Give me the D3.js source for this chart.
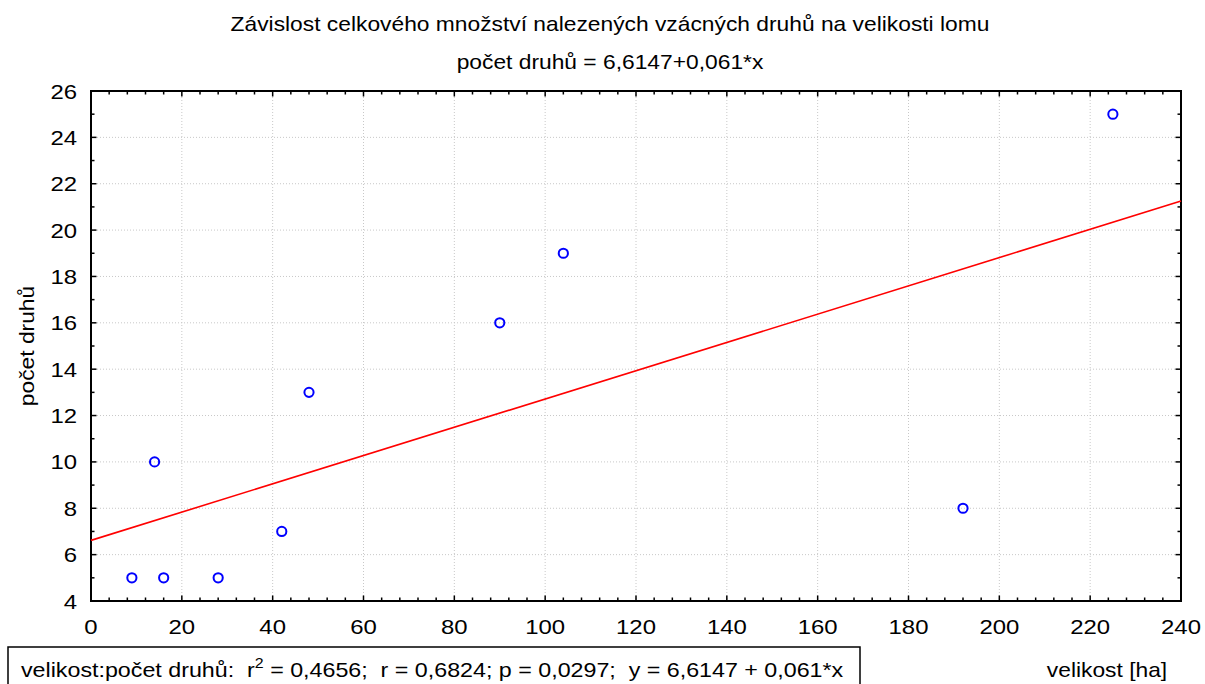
<!DOCTYPE html>
<html>
<head>
<meta charset="utf-8">
<script src="https://cdn.jsdelivr.net/npm/d3@7"></script>
<style>
	body { margin: 0; background: #fff; }
	svg { font-family: Arial, "Liberation Sans", sans-serif; }
	.grid line { stroke: #c8c8c8; stroke-dasharray: 1,2; }
	text { white-space: pre; }
</style>
</head>
<body>
<svg id="vis" width="1205" height="684"></svg>
<script>
// data
const velikost = [9, 14, 16, 28, 42, 48, 90, 104, 192, 225];
const pocetDruhu = [5, 10, 5, 5, 7, 13, 16, 19, 8, 25];
const xTicks = [0, 20, 40, 60, 80, 100, 120, 140, 160, 180, 200, 220, 240];
const yTicks = [4, 6, 8, 10, 12, 14, 16, 18, 20, 22, 24, 26];
const fit = { a: 6.6147, b: 0.061 };

const svg = d3.select("svg#vis");
const plot = { left: 91, top: 91, right: 1181, bottom: 601 };
const stretch = 1.14; // the original text is a bit wider than Arial

const x = d3.scaleLinear().domain([0, 240]).range([plot.left, plot.right]);
const y = d3.scaleLinear().domain([4, 26]).range([plot.bottom, plot.top]);

// grid
svg.append("g").attr("class", "grid")
	.selectAll("line").data(xTicks.slice(1, -1)).enter().append("line")
	.attr("x1", d => x(d)).attr("x2", d => x(d))
	.attr("y1", plot.top).attr("y2", plot.bottom);
svg.append("g").attr("class", "grid")
	.selectAll("line").data(yTicks.slice(1, -1)).enter().append("line")
	.attr("x1", plot.left).attr("x2", plot.right)
	.attr("y1", d => y(d)).attr("y2", d => y(d));

// ticks pointing inward on all four sides
const xMinor = d3.range(0, 241, 4);
const yMinor = d3.range(4, 26.01, 1);
const ticks = svg.append("g").attr("stroke", "#000").attr("stroke-width", 1.5);
xMinor.forEach(v => {
	const L = v % 20 === 0 ? 5.5 : 3.5;
	ticks.append("line").attr("x1", x(v)).attr("x2", x(v)).attr("y1", plot.bottom).attr("y2", plot.bottom - L);
	ticks.append("line").attr("x1", x(v)).attr("x2", x(v)).attr("y1", plot.top).attr("y2", plot.top + L);
});
yMinor.forEach(v => {
	const L = v % 2 === 0 ? 5.5 : 3.5;
	ticks.append("line").attr("y1", y(v)).attr("y2", y(v)).attr("x1", plot.left).attr("x2", plot.left + L);
	ticks.append("line").attr("y1", y(v)).attr("y2", y(v)).attr("x1", plot.right).attr("x2", plot.right - L);
});

// frame
svg.append("rect")
	.attr("x", plot.left).attr("y", plot.top)
	.attr("width", plot.right - plot.left).attr("height", plot.bottom - plot.top)
	.attr("fill", "none").attr("stroke", "#000").attr("stroke-width", 2);

// tick labels
svg.append("g").selectAll("text").data(xTicks).enter().append("text")
	.attr("transform", d => translate(x(d), plot.bottom + 33) + " scale(" + stretch + ",1)")
	.attr("text-anchor", "middle").attr("font-size", 21)
	.text(d => d);
svg.append("g").selectAll("text").data(yTicks).enter().append("text")
	.attr("transform", d => translate(plot.left - 14, y(d) + 7.5) + " scale(" + stretch + ",1)")
	.attr("text-anchor", "end").attr("font-size", 21)
	.text(d => d);

// regression line
const line = d3.line().x(d => x(d)).y(d => y(fit.a + fit.b * d));
svg.append("path")
	.attr("d", line([0, 240]))
	.attr("fill", "none").attr("stroke", "#ff0000").attr("stroke-width", 1.6);

// points
svg.append("g").selectAll("circle").data(velikost).enter().append("circle")
	.attr("cx", d => x(d)).attr("cy", (d, i) => y(pocetDruhu[i]))
	.attr("r", 4.6)
	.attr("fill", "none").attr("stroke", "#0000ff").attr("stroke-width", 2);

// titles
function label(tx, ty, txt, anchor, rot) {
	return svg.append("text")
		.attr("transform", translate(tx, ty) + (rot ? " rotate(" + rot + ")" : "") + " scale(" + stretch + ",1)")
		.attr("text-anchor", anchor).attr("font-size", 20)
		.text(txt);
}
label(610, 31, "Závislost celkového množství nalezených vzácných druhů na velikosti lomu", "middle");
label(610, 69, "počet druhů = 6,6147+0,061*x", "middle");

// axis titles
label(34, (plot.top + plot.bottom) / 2, "počet druhů", "middle", -90);
label(1107, 677, "velikost [ha]", "middle");

// stats box
svg.append("rect")
	.attr("x", 8).attr("y", 647).attr("width", 852).attr("height", 50)
	.attr("fill", "#fff").attr("stroke", "#000").attr("stroke-width", 1.5);
const stats = svg.append("text")
	.attr("transform", translate(21, 677) + " scale(" + stretch + ",1)")
	.attr("font-size", 20.4);
stats.append("tspan").text("velikost:počet druhů:  r");
stats.append("tspan").attr("dy", -9).attr("font-size", 14).text("2");
stats.append("tspan").attr("dy", 9).text(" = 0,4656;  r = 0,6824; p = 0,0297;  y = 6,6147 + 0,061*x");

function translate(a, b) {
	return "translate(" + a + "," + b + ")";
}
</script>
</body>
</html>
